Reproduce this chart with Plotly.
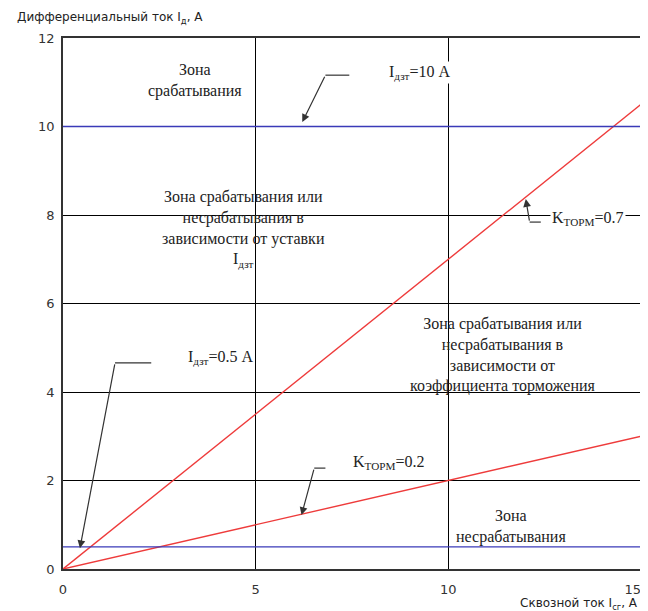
import plotly.graph_objects as go

# ---- data ----
x_range = [0, 15]
k_torm_high = 0.7
k_torm_low = 0.2
i_dzt_high = 10
i_dzt_low = 0.5
x_ticks = [0, 5, 10, 15]
x_tick_labels = ["0", "5", "10", "15"]
y_ticks = [0, 2, 4, 6, 8, 10, 12]

SERIF = "Liberation Serif"
SANS = "DejaVu Sans"

# keep the last x tick label inside the figure edge
x_tick_text = x_tick_labels[:-1] + [x_tick_labels[-1] + "\u00a0" * 4]

fig = go.Figure()

# red restraint lines
for k in [k_torm_high, k_torm_low]:
    fig.add_trace(go.Scatter(x=x_range, y=[k * x_range[0], k * x_range[1]], mode="lines",
                             line=dict(color="#ee3b3b", width=1.4), showlegend=False, hoverinfo="skip"))
# blue threshold lines
for i in [i_dzt_high, i_dzt_low]:
    fig.add_trace(go.Scatter(x=x_range, y=[i, i], mode="lines",
                             line=dict(color="#3a3ab8", width=1.4), showlegend=False, hoverinfo="skip"))

ann = []
shapes = []

def bent_arrow(x_end, x_elbow, y_h, x_head, y_head):
    shapes.append(dict(type="line", xref="x", yref="y", x0=x_end, x1=x_elbow, y0=y_h, y1=y_h,
                       line=dict(color="#333333", width=1.2)))
    ann.append(dict(x=x_head, y=y_head, ax=x_elbow, ay=y_h, xref="x", yref="y", axref="x", ayref="y",
                    text="", showarrow=True, arrowhead=2, arrowsize=1.3, arrowwidth=1.2, arrowcolor="#333333"))

bent_arrow(7.43, 6.81, 11.16, 6.21, 10.1)
bent_arrow(2.29, 1.35, 4.66, 0.44, 0.47)
bent_arrow(6.81, 6.52, 2.28, 6.19, 1.22)
bent_arrow(12.4, 12.11, 7.84, 12.01, 8.36)

def label(x, y, text, bg=None, size=16):
    d = dict(x=x, y=y, xref="x", yref="y", text=text, showarrow=False,
             font=dict(family=SERIF, size=size, color="#222222"), align="center")
    if bg:
        d["bgcolor"] = bg
    ann.append(d)

label(9.25, 11.23, "I<sub>дзт</sub>=10 А", bg="white")
label(4.08, 4.77, "I<sub>дзт</sub>=0.5 А")
label(8.45, 2.40, "K<sub>ТОРМ</sub>=0.2")
label(13.62, 7.93, "K<sub>ТОРМ</sub>=0.7", bg="white")

label(3.43, 11.05, "Зона<br>срабатывания")
label(4.68, 7.68, "Зона срабатывания или<br>несрабатывания в<br>зависимости от уставки<br>I<sub>дзт</sub>")
label(11.41, 4.84, "Зона срабатывания или<br>несрабатывания в<br>зависимости от<br>коэффициента торможения")
label(11.62, 0.97, "Зона<br>несрабатывания")

# axis titles
ann.append(dict(xref="paper", yref="paper", x=-0.083, y=1.0377, xanchor="left", yanchor="middle",
                text="Дифференциальный ток I<sub>д</sub>, А", showarrow=False,
                font=dict(family=SANS, size=12, color="#222222")))
ann.append(dict(xref="paper", yref="paper", x=0.998, y=-0.066, xanchor="right", yanchor="middle",
                text="Сквозной ток I<sub>сг</sub>, А", showarrow=False,
                font=dict(family=SANS, size=12, color="#222222")))

fig.update_layout(
    width=640, height=603,
    margin=dict(l=55, r=7, t=30, b=42, autoexpand=False),
    paper_bgcolor="white", plot_bgcolor="white",
    annotations=ann, shapes=shapes,
    xaxis=dict(range=x_range, tickvals=x_ticks, ticktext=x_tick_text,
               showgrid=True, gridcolor="black", gridwidth=1,
               zeroline=False, showline=True, linecolor="#333333", linewidth=1.5, mirror=True,
               ticks="", ticklabelstandoff=8, automargin=False, ticklabeloverflow="allow",
               tickfont=dict(family=SANS, size=13, color="#333333")),
    yaxis=dict(range=[0, 12], tickvals=y_ticks, showgrid=True, gridcolor="black", gridwidth=1,
               zeroline=False, showline=True, linecolor="#333333", linewidth=1.5, mirror=True,
               ticks="", ticklabelstandoff=4, automargin=False,
               tickfont=dict(family=SANS, size=13, color="#333333")),
)

fig.write_html("out.html")
